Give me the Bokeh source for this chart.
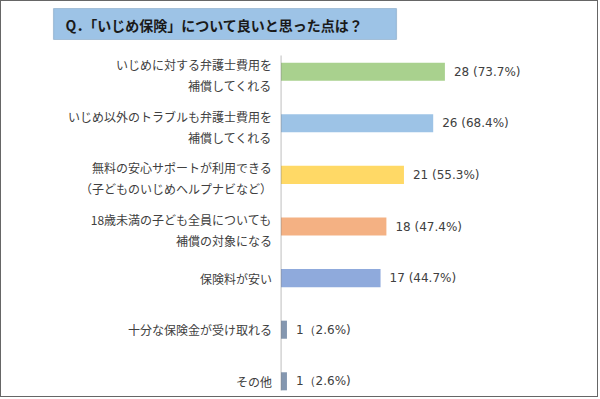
from bokeh.plotting import figure
from bokeh.models import ColumnDataSource, Range1d, LabelSet, Label, BoxAnnotation
from bokeh.core.properties import value
from bokeh.embed import file_html
from bokeh.resources import INLINE

# ---- data ----
categories = [
    "いじめに対する弁護士費用を\n補償してくれる",
    "いじめ以外のトラブルも弁護士費用を\n補償してくれる",
    "無料の安心サポートが利用できる\n（子どものいじめヘルプナビなど）",
    "18歳未満の子ども全員についても\n補償の対象になる",
    "保険料が安い",
    "十分な保険金が受け取れる",
    "その他",
]
counts = [28, 26, 21, 18, 17, 1, 1]
percents = [73.7, 68.4, 55.3, 47.4, 44.7, 2.6, 2.6]
value_labels = ["28 (73.7%)", "26 (68.4%)", "21 (55.3%)", "18 (47.4%)",
                "17 (44.7%)", "1（2.6%)", "1（2.6%)"]
colors = ["#A9D18E", "#9DC3E6", "#FFD966", "#F4B183", "#8FAADC", "#8497B0", "#8497B0"]
title_text = "Q．「いじめ保険」について良いと思った点は？"

# ---- layout ----
W, H = 598, 397
X0 = 279.6          # pixel of value 0
SX = 5.85           # pixels per count
Y0 = 70.2           # pixel of first category
SY = 51.6           # pixels per category

idx = list(range(len(categories)))
line1 = [c.split("\n")[0] for c in categories]
line2 = [c.split("\n")[1] if "\n" in c else "" for c in categories]
off1 = [7 if "\n" in c else 0 for c in categories]

src = ColumnDataSource(dict(
    y=idx, count=counts, color=colors, vlab=value_labels,
    line1=line1, line2=line2, off1=off1, zero=[0] * len(idx),
))

p = figure(width=W, height=H, output_backend="svg", toolbar_location=None,
           x_range=Range1d(-X0 / SX, (W - X0) / SX),
           y_range=Range1d((H - Y0) / SY, -Y0 / SY),
           min_border=0)
p.styles = {"border": "1px solid #666666"}
p.outline_line_color = None
p.xgrid.visible = False
p.ygrid.visible = False
p.xaxis.visible = False
p.yaxis.visible = False
p.background_fill_color = "white"
p.border_fill_color = "white"

# axis line at zero
p.add_layout(BoxAnnotation(left=0, right=0, top=(54 - Y0) / SY, bottom=(389 - Y0) / SY,
                           fill_alpha=0, line_color="#595959", line_width=1.3))

p.hbar(y="y", left=0, right="count", height=0.35, color="color",
       line_color=None, source=src)

# value labels
p.add_layout(LabelSet(x="count", y="y", text="vlab", source=src,
                      x_offset=9, text_baseline="middle", text_align="left",
                      text_font=value("DejaVu Sans"), text_font_size="12px",
                      text_color="#404040"))

# category labels (two lines)
p.add_layout(LabelSet(x="zero", y="y", text="line1", source=src,
                      x_offset=-9, y_offset="off1", text_baseline="middle",
                      text_align="right", text_font=value("Noto Sans CJK JP"),
                      text_font_size="12px", text_color="#404040"))
p.add_layout(LabelSet(x="zero", y="y", text="line2", source=src,
                      x_offset=-9, y_offset=-14, text_baseline="middle",
                      text_align="right", text_font=value("Noto Sans CJK JP"),
                      text_font_size="12px", text_color="#404040"))

# title box (screen units: x from left, y up from bottom)
p.add_layout(BoxAnnotation(left=52, right=395, top=H - 7, bottom=H - 38,
                           left_units="screen", right_units="screen",
                           top_units="screen", bottom_units="screen",
                           fill_color="#9DC3E6", fill_alpha=1.0,
                           line_color="#41719C", line_width=1.2))
p.add_layout(Label(x=64, y=H - 23, x_units="screen", y_units="screen",
                   text=title_text, text_font="Noto Sans CJK JP",
                   text_font_size="14px", text_font_style="bold",
                   text_color="#1a1a1a", text_baseline="middle", text_align="left"))

open("out.html", "w").write(file_html(p, INLINE))
